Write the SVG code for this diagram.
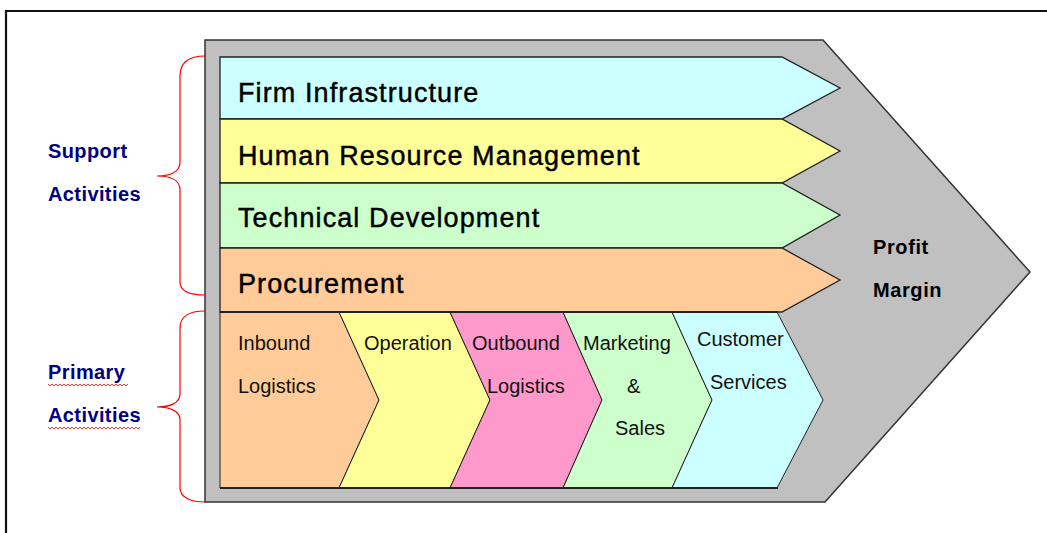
<svg xmlns="http://www.w3.org/2000/svg" width="1047" height="533" viewBox="0 0 1047 533">
<style>
.row{stroke:#222;stroke-width:1.3;stroke-linejoin:miter}
.chev{stroke:#222;stroke-width:1;stroke-linejoin:miter}
.big{font-family:"Liberation Sans",Arial,sans-serif;font-size:27px;letter-spacing:1.1px;fill:#000;stroke:#000;stroke-width:0.45px}
.small{font-family:"Liberation Sans",Arial,sans-serif;font-size:20px;fill:#111}
.side{font-family:"Liberation Sans",Arial,sans-serif;font-size:20px;font-weight:bold;fill:#000080;letter-spacing:0.4px}
.pm{font-family:"Liberation Sans",Arial,sans-serif;font-size:20px;font-weight:bold;fill:#000;letter-spacing:0.6px}
.brace{fill:none;stroke:#ff0000;stroke-width:1.2}
.wave{fill:none;stroke:#ff3030;stroke-width:1}
</style>
<rect x="0" y="0" width="1047" height="533" fill="#ffffff"/>
<path d="M5 11 H1047 M6 10 V533" stroke="#111" stroke-width="2.2" fill="none"/>

<g id="chain">
<polygon points="205,40 823,40 1030,272 825,502 205,502" fill="#c0c0c0" stroke="#333" stroke-width="1.5"/>
</g>

<g id="firm-infrastructure">
<polygon class="row" points="220,57 782,57 840,88 782,119 220,119" fill="#ccffff"/>
<text class="big" x="238" y="102">Firm Infrastructure</text>
</g>
<g id="hrm">
<polygon class="row" points="220,119 782,119 840,151 782,183 220,183" fill="#ffff99"/>
<text class="big" x="238" y="165">Human Resource Management</text>
</g>
<g id="tech-dev">
<polygon class="row" points="220,183 782,183 840,215 782,248 220,248" fill="#ccffcc"/>
<text class="big" x="238" y="227">Technical Development</text>
</g>
<g id="procurement">
<polygon class="row" points="220,248 782,248 840,280 782,312 220,312" fill="#ffcc99"/>
<text class="big" x="238" y="293">Procurement</text>
</g>

<g id="inbound">
<polygon class="chev" points="220,312 339,312 379,400 339,488 220,488" fill="#ffcc99"/>
<text class="small" x="238" y="350">Inbound</text>
<text class="small" x="238" y="393">Logistics</text>
</g>
<g id="operation">
<polygon class="chev" points="339,312 450,312 490,400 450,488 339,488 379,400" fill="#ffff99"/>
<text class="small" x="364" y="350">Operation</text>
</g>
<g id="outbound">
<polygon class="chev" points="450,312 563,312 602,400 563,488 450,488 490,400" fill="#ff99cc"/>
<text class="small" x="472" y="350">Outbound</text>
<text class="small" x="487" y="393">Logistics</text>
</g>
<g id="marketing">
<polygon class="chev" points="563,312 672,312 712,400 672,488 563,488 602,400" fill="#ccffcc"/>
<text class="small" x="583" y="350">Marketing</text>
<text class="small" x="627" y="393">&amp;</text>
<text class="small" x="615" y="435">Sales</text>
</g>
<g id="customer">
<polygon class="chev" points="672,312 777,312 823,400 777,488 672,488 712,400" fill="#ccffff"/>
<text class="small" x="697" y="346">Customer</text>
<text class="small" x="710" y="389">Services</text>
</g>
<path d="M220 312 H778 M220 488 H778" stroke="#222" stroke-width="2" fill="none"/>

<g id="profit-margin">
<text class="pm" x="873" y="254">Profit</text>
<text class="pm" x="873" y="297">Margin</text>
</g>

<g id="support">
<text class="side" x="48" y="158">Support</text>
<text class="side" x="48" y="201">Activities</text>
</g>
<g id="primary">
<text class="side" x="48" y="379">Primary</text>
<text class="side" x="48" y="422">Activities</text>
<path class="wave" d="M48 384 l2 2 l2 -2 l2 2 l2 -2 l2 2 l2 -2 l2 2 l2 -2 l2 2 l2 -2 l2 2 l2 -2 l2 2 l2 -2 l2 2 l2 -2 l2 2 l2 -2 l2 2 l2 -2 l2 2 l2 -2 l2 2 l2 -2 l2 2 l2 -2 l2 2 l2 -2 l2 2 l2 -2 l2 2 l2 -2 l2 2 l2 -2 l2 2 l2 -2 l2 2 l2 -2 l2 2 l2 -2"/>
<path class="wave" d="M48 427 l2 2 l2 -2 l2 2 l2 -2 l2 2 l2 -2 l2 2 l2 -2 l2 2 l2 -2 l2 2 l2 -2 l2 2 l2 -2 l2 2 l2 -2 l2 2 l2 -2 l2 2 l2 -2 l2 2 l2 -2 l2 2 l2 -2 l2 2 l2 -2 l2 2 l2 -2 l2 2 l2 -2 l2 2 l2 -2 l2 2 l2 -2 l2 2 l2 -2 l2 2 l2 -2 l2 2 l2 -2 l2 2 l2 -2 l2 2 l2 -2 l2 2 l2 -2"/>
</g>

<g id="connectors">
<path class="brace" d="M205 56 C190 56 180 62 180 76 V162 C180 172 170 176 157 176 C170 176 180 180 180 190 V282 C180 292 192 295 205 295"/>
<path class="brace" d="M205 311 C190 311 180 316 180 328 V394 C180 403 170 407 157 407 C170 407 180 411 180 420 V488 C180 498 192 502 205 502"/>
</g>
</svg>
